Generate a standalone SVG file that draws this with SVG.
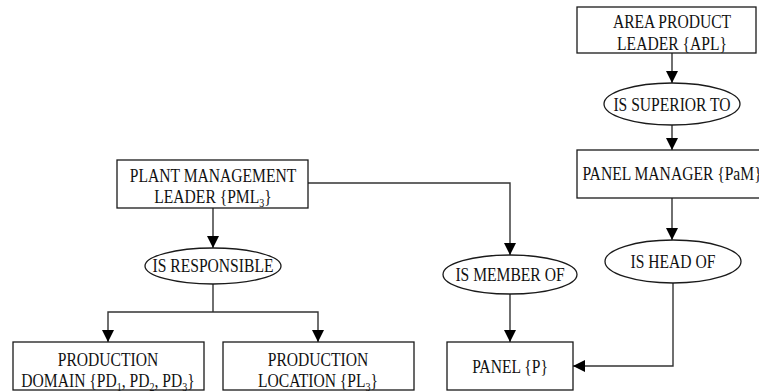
<svg xmlns="http://www.w3.org/2000/svg" width="759" height="392" viewBox="0 0 759 392">
  <style>
    .box { fill: #ffffff; stroke: #1a1a1a; stroke-width: 1.3; }
    .rel { fill: #ffffff; stroke: #1a1a1a; stroke-width: 1.3; }
    .lbl { font-family: "Liberation Serif", "Times New Roman", serif; font-size: 15.6px; fill: #111111; text-anchor: middle; }
    .sub { font-size: 10px; }
    .wire { fill: none; stroke: #333333; stroke-width: 1.4; }
  </style>
  <defs>
    <marker id="head" viewBox="0 0 12 12" refX="12" refY="6" markerWidth="12" markerHeight="12" markerUnits="userSpaceOnUse" orient="auto">
      <path d="M0,0 L12,6 L0,12 Z" fill="#000000"/>
    </marker>
  </defs>
  <rect width="759" height="392" fill="#ffffff"/>

  <!-- connectors -->
  <g id="connectors">
    <path class="wire" d="M672,53 V83" marker-end="url(#head)"/>
    <path class="wire" d="M672,125 V150" marker-end="url(#head)"/>
    <path class="wire" d="M672,198 V240" marker-end="url(#head)"/>
    <path class="wire" d="M673,283 V366 H573" marker-end="url(#head)"/>
    <path class="wire" d="M308,183 H510 V255" marker-end="url(#head)"/>
    <path class="wire" d="M510,294 V342" marker-end="url(#head)"/>
    <path class="wire" d="M213,208 V248" marker-end="url(#head)"/>
    <path class="wire" d="M213,284 V312"/>
    <path class="wire" d="M213,312 H108 V342" marker-end="url(#head)"/>
    <path class="wire" d="M213,312 H318 V342" marker-end="url(#head)"/>
  </g>

  <!-- area product leader -->
  <g id="apl">
    <rect class="box" x="577" y="7" width="179" height="46"/>
    <g transform="translate(672,28) scale(1,1.2)"><text class="lbl" x="0" y="0">AREA PRODUCT</text></g>
    <g transform="translate(672,50) scale(1,1.2)"><text class="lbl" x="0" y="0">LEADER {APL}</text></g>
  </g>

  <!-- is superior to -->
  <g id="is-superior-to">
    <ellipse class="rel" cx="672" cy="104" rx="68" ry="21"/>
    <g transform="translate(672,111) scale(1,1.2)"><text class="lbl" x="0" y="0">IS SUPERIOR TO</text></g>
  </g>

  <!-- panel manager -->
  <g id="pam">
    <rect class="box" x="577" y="150" width="191" height="48"/>
    <g transform="translate(672,180) scale(1,1.2)"><text class="lbl" x="0" y="0">PANEL MANAGER {PaM}</text></g>
  </g>

  <!-- is head of -->
  <g id="is-head-of">
    <ellipse class="rel" cx="673" cy="261.5" rx="68" ry="21.5"/>
    <g transform="translate(673,268) scale(1,1.2)"><text class="lbl" x="0" y="0">IS HEAD OF</text></g>
  </g>

  <!-- plant management leader -->
  <g id="pml">
    <rect class="box" x="117" y="160" width="191" height="48"/>
    <g transform="translate(213,182) scale(1,1.2)"><text class="lbl" x="0" y="0">PLANT MANAGEMENT</text></g>
    <g transform="translate(213,203) scale(1,1.2)"><text class="lbl" x="0" y="0">LEADER {PML<tspan class="sub" dy="3">3</tspan><tspan dy="-3">}</tspan></text></g>
  </g>

  <!-- is responsible -->
  <g id="is-responsible">
    <ellipse class="rel" cx="213" cy="266" rx="68" ry="18"/>
    <g transform="translate(213,272) scale(1,1.2)"><text class="lbl" x="0" y="0">IS RESPONSIBLE</text></g>
  </g>

  <!-- is member of -->
  <g id="is-member-of">
    <ellipse class="rel" cx="510" cy="274.5" rx="67" ry="19.5"/>
    <g transform="translate(510,281) scale(1,1.2)"><text class="lbl" x="0" y="0">IS MEMBER OF</text></g>
  </g>

  <!-- production domain -->
  <g id="pd">
    <rect class="box" x="13" y="342" width="191" height="48"/>
    <g transform="translate(108,366) scale(1,1.2)"><text class="lbl" x="0" y="0">PRODUCTION</text></g>
    <g transform="translate(108,387) scale(1,1.2)"><text class="lbl" x="0" y="0">DOMAIN {PD<tspan class="sub" dy="3">1</tspan><tspan dy="-3">, PD</tspan><tspan class="sub" dy="3">2</tspan><tspan dy="-3">, PD</tspan><tspan class="sub" dy="3">3</tspan><tspan dy="-3">}</tspan></text></g>
  </g>

  <!-- production location -->
  <g id="pl">
    <rect class="box" x="223" y="342" width="191" height="48"/>
    <g transform="translate(318,366) scale(1,1.2)"><text class="lbl" x="0" y="0">PRODUCTION</text></g>
    <g transform="translate(318,387) scale(1,1.2)"><text class="lbl" x="0" y="0">LOCATION {PL<tspan class="sub" dy="3">3</tspan><tspan dy="-3">}</tspan></text></g>
  </g>

  <!-- panel -->
  <g id="panel">
    <rect class="box" x="447" y="342" width="126" height="48"/>
    <g transform="translate(510,373) scale(1,1.2)"><text class="lbl" x="0" y="0">PANEL {P}</text></g>
  </g>
</svg>
